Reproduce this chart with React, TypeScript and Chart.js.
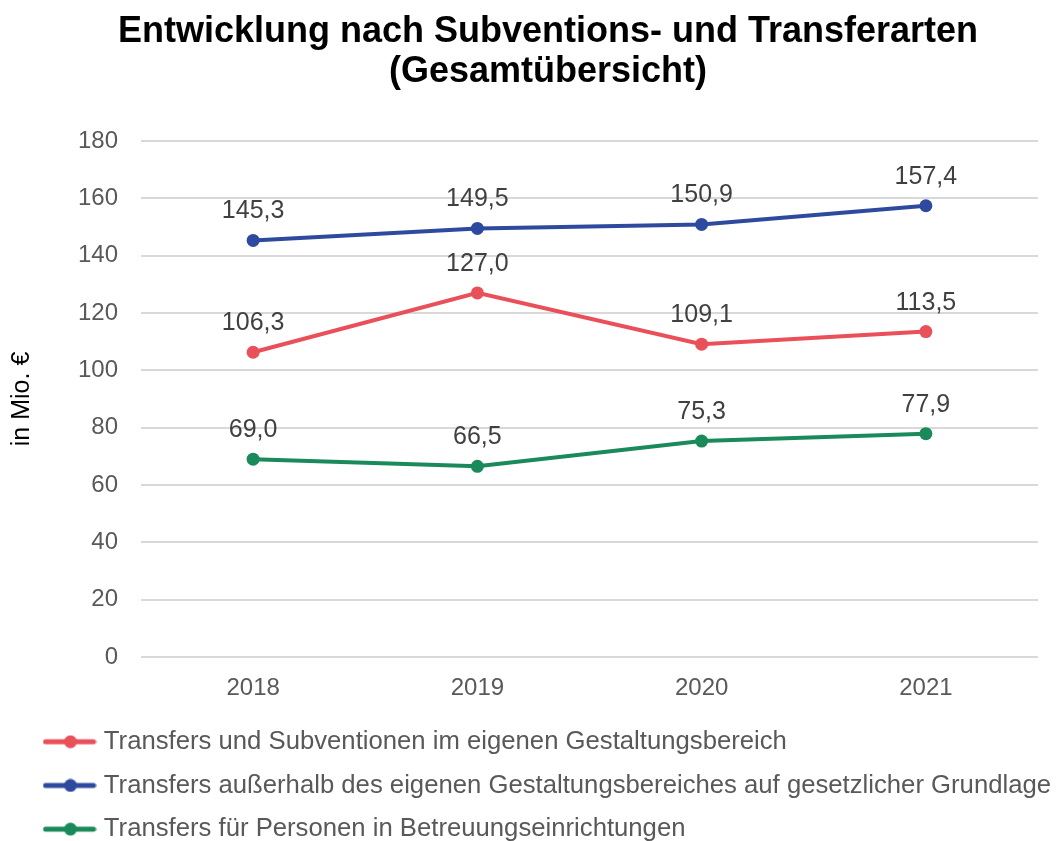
import React, { useEffect, useRef } from "react";
import { Chart, registerables } from "chart.js";

Chart.register(...registerables);

const years = ["2018", "2019", "2020", "2021"];
const eigenerBereich = [106.3, 127.0, 109.1, 113.5];
const gesetzlicheGrundlage = [145.3, 149.5, 150.9, 157.4];
const betreuungseinrichtungen = [69.0, 66.5, 75.3, 77.9];
const seriesNames = [
  "Transfers und Subventionen im eigenen Gestaltungsbereich",
  "Transfers außerhalb des eigenen Gestaltungsbereiches auf gesetzlicher Grundlage",
  "Transfers für Personen in Betreuungseinrichtungen",
];
const seriesColors = ["#e9505a", "#2e4a9e", "#1b8a5a"];
const titleLines = ["Entwicklung nach Subventions- und Transferarten", "(Gesamtübersicht)"];
const yAxisTitle = "in Mio. €";
const yMin = 0;
const yMax = 180;
const yStep = 20;

const FONT = "'Liberation Sans', Arial, Helvetica, sans-serif";

function makeMarker(color: string): HTMLCanvasElement {
  const c = document.createElement("canvas");
  c.width = 54;
  c.height = 14;
  const g = c.getContext("2d")!;
  g.strokeStyle = color;
  g.lineWidth = 5;
  g.lineCap = "round";
  g.beginPath();
  g.moveTo(3, 7);
  g.lineTo(51, 7);
  g.stroke();
  g.fillStyle = color;
  g.beginPath();
  g.arc(28, 7, 6.5, 0, Math.PI * 2);
  g.fill();
  return c;
}

const dataLabelPlugin = {
  id: "dataLabels",
  afterDatasetsDraw(chart: any) {
    const ctx = chart.ctx;
    ctx.save();
    ctx.font = `25px ${FONT}`;
    ctx.fillStyle = "#404040";
    ctx.textAlign = "center";
    ctx.textBaseline = "alphabetic";
    chart.data.datasets.forEach((ds: any, i: number) => {
      const meta = chart.getDatasetMeta(i);
      meta.data.forEach((pt: any, j: number) => {
        const v = ds.data[j] as number;
        ctx.fillText(v.toFixed(1).replace(".", ","), pt.x, pt.y - 22);
      });
    });
    ctx.restore();
  },
};

const layoutTweakPlugin = {
  id: "layoutTweak",
  afterLayout(chart: any) {
    const t = chart.titleBlock;
    if (t) {
      t.left += 14;
      t.right += 14;
    }
    const lg = chart.legend;
    if (lg) {
      lg.right += 22;
      lg.width += 22;
    }
  },
};

export default function App() {
  const ref = useRef<HTMLCanvasElement | null>(null);

  useEffect(() => {
    document.body.style.margin = "8px 0 0 8px";
    const canvas = ref.current;
    if (!canvas) return;
    const markers = seriesColors.map(makeMarker);
    const datasets = [eigenerBereich, gesetzlicheGrundlage, betreuungseinrichtungen].map((d, i) => ({
      label: seriesNames[i],
      data: d,
      borderColor: seriesColors[i],
      backgroundColor: seriesColors[i],
      pointBackgroundColor: seriesColors[i],
      pointBorderColor: seriesColors[i],
      pointBorderWidth: 0,
      pointRadius: 6.5,
      borderWidth: 4,
      tension: 0,
      fill: false,
    }));
    const chart = new Chart(canvas, {
      type: "line",
      data: { labels: years, datasets },
      options: {
        animation: false,
        responsive: false,
        devicePixelRatio: 1,
        layout: { padding: { left: 22, right: 22, top: 0, bottom: -11 } },
        font: { family: FONT },
        plugins: {
          title: {
            display: true,
            text: titleLines,
            color: "#000000",
            font: { family: FONT, size: 36, weight: "bold", lineHeight: 1.111 },
            padding: { top: 4, bottom: 49 },
          },
          legend: {
            display: true,
            position: "bottom",
            align: "start",
            labels: {
              usePointStyle: true,
              pointStyleWidth: 43,
              padding: 18,
              color: "#595959",
              font: { family: FONT, size: 25.7 },
              generateLabels: (ch: any) => {
                const items = Chart.defaults.plugins.legend.labels.generateLabels(ch);
                return items.map((it: any, i: number) => ({ ...it, pointStyle: markers[i] }));
              },
            },
          },
          tooltip: { enabled: false },
        },
        scales: {
          x: {
            offset: true,
            grid: { display: false, drawTicks: false },
            border: { display: false },
            ticks: {
              color: "#595959",
              padding: 17,
              font: { family: FONT, size: 24, lineHeight: 1.2 },
            },
            afterFit: (scale: any) => {
              scale.height = 54;
            },
          },
          y: {
            min: yMin,
            max: yMax,
            border: { display: false },
            grid: { color: "#d9d9d9", lineWidth: 2, drawTicks: false },
            ticks: {
              stepSize: yStep,
              color: "#595959",
              padding: 23,
              font: { family: FONT, size: 24 },
            },
            title: {
              display: true,
              text: yAxisTitle,
              color: "#000000",
              font: { family: FONT, size: 25, lineHeight: 1.2 },
              padding: { top: -23, bottom: 41 },
            },
            afterFit: (scale: any) => {
              scale.width = 111;
            },
          },
        },
      },
      plugins: [dataLabelPlugin, layoutTweakPlugin],
    } as any);
    return () => chart.destroy();
  }, []);

  return (
    <div style={{ width: 1052, height: 833 }}>
      <canvas ref={ref} width={1052} height={833} style={{ display: "block", width: 1052, height: 833 }} />
    </div>
  );
}
